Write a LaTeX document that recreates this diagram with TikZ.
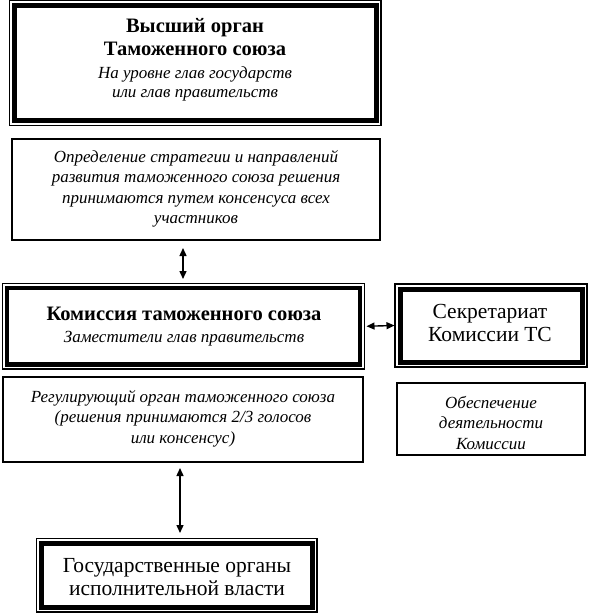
\documentclass[tikz,border=0pt]{standalone}
\usepackage{fontspec}
\setmainfont{Liberation Serif}
\usetikzlibrary{arrows.meta,calc}
\newcommand\bfl[1]{{\fontsize{20.5}{23}\selectfont\bfseries #1}}
\newcommand\itl[1]{{\fontsize{17}{19}\selectfont\itshape #1}}
\begin{document}
\begin{tikzpicture}[x=1pt,y=-1pt,
  thickbox/.style={draw, line width=5pt, inner sep=0pt, outer sep=0pt},
  thinbox/.style={draw, line width=1.4pt, inner sep=0pt, outer sep=0pt},
  outerline/.style={line width=1.2pt},
  arr/.style={line width=1.4pt, {Triangle[length=8pt,width=7pt]}-{Triangle[length=8pt,width=7pt]}},
  txt/.style={align=center, inner sep=0pt, font=\fontsize{17}{19}\selectfont},
  it/.style={font=\fontsize{17}{20.5}\selectfont\itshape},
  rt/.style={font=\fontsize{21.5}{23.5}\selectfont},
]
\useasboundingbox (0,0) rectangle (589,613);

% top box
\node[thickbox, minimum width=361.5pt, minimum height=115pt] (top) at (195.25,63) {};
\draw[outerline] ($(top.north west)+(-5,-5)$) rectangle ($(top.south east)+(5,5)$);
\node[txt] (topT) at (195,60) {\bfl{Высший орган}\\[4pt]\bfl{Таможенного союза}\\[4pt]
 \itl{На уровне глав государств}\\\itl{или глав правительств}};

% definition box
\node[thinbox, minimum width=368pt, minimum height=101pt] (def) at (196,189.5) {};
\node[txt, it, anchor=north] (defT) at ($(def.north)+(0,11)$) {Определение стратегии и направлений\\развития таможенного союза решения\\принимаются путем консенсуса всех\\участников};

% commission box
\node[thickbox, line width=4.5pt, minimum width=353pt, minimum height=76.5pt] (kom) at (183.5,326.25) {};
\draw[outerline] ($(kom.north west)+(-4.5,-4.5)$) rectangle ($(kom.south east)+(4.5,4.5)$);
\node[txt] (komT) at (184,327) {\bfl{Комиссия таможенного союза}\\[3pt]\itl{Заместители глав правительств}};

% secretariat box
\node[thickbox, minimum width=182pt, minimum height=73pt] (sec) at (491,325.5) {};
\draw[outerline] ($(sec.north west)+(-5,-5)$) rectangle ($(sec.south east)+(5,5)$);
\node[txt, rt] (secT) at (490,323) {Секретариат\\Комиссии ТС};

% regulatory box
\node[thinbox, minimum width=360pt, minimum height=85pt] (reg) at (183,419.5) {};
\node[txt, it, anchor=north] (regT) at ($(reg.north)+(0,13)$) {Регулирующий орган таможенного союза\\(решения принимаются 2/3 голосов\\или консенсус)};

% support box
\node[thinbox, minimum width=188pt, minimum height=72pt] (obs) at (491,419) {};
\node[txt, it] (obsT) at (491,423) {Обеспечение\\деятельности\\Комиссии};

% bottom box
\node[thickbox, minimum width=271.5pt, minimum height=64.5pt] (gos) at (176.75,575.25) {};
\draw[outerline] ($(gos.north west)+(-4.5,-4.5)$) rectangle ($(gos.south east)+(4.5,4.5)$);
\node[txt, rt] (gosT) at (177,577) {Государственные органы\\исполнительной власти};

% arrows
\coordinate (ax1) at (183,0);
\coordinate (ax2) at (180,0);
\draw[arr] ($(def.south -| ax1)+(0,8)$) -- ($(kom.north -| ax1)+(0,-9)$);
\draw[arr] ($(kom.east)+(6.5,0)$) -- ($(sec.west)+(-5.5,0)$);
\draw[arr] ($(reg.south -| ax2)+(0,6)$) -- ($(gos.north -| ax2)+(0,-10)$);
\end{tikzpicture}
\end{document}
